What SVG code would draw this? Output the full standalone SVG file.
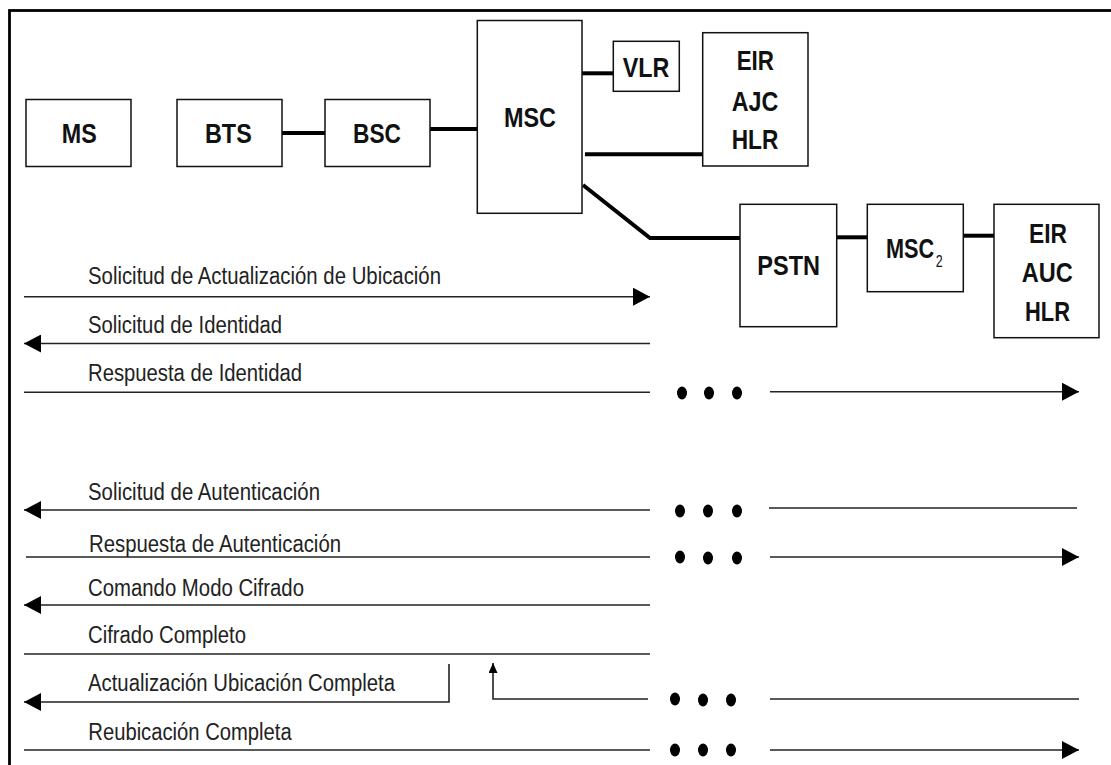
<svg xmlns="http://www.w3.org/2000/svg" width="1111" height="765" viewBox="0 0 1111 765">
  <style>
    .box { fill: #fff; stroke: #111; stroke-width: 1.5; }
    .lbl { font-family: "Liberation Sans", Arial, sans-serif; font-weight: bold; font-size: 28px; fill: #111; }
    .sub { font-weight: normal; font-size: 16px; }
    .link { stroke: #000; stroke-width: 4; fill: none; }
    .msg { stroke: #222; stroke-width: 1.6; fill: none; }
    .txt { font-family: "Liberation Sans", Arial, sans-serif; font-size: 23px; fill: #222; }
    .dot { fill: #000; }
  </style>
  <defs>
    <marker id="arr" viewBox="0 0 17 18" refX="17" refY="9" markerWidth="17" markerHeight="18" markerUnits="userSpaceOnUse" orient="auto">
      <path d="M0,0 L17,9 L0,18 z" fill="#000"/>
    </marker>
    <marker id="arrS" viewBox="0 0 10 9" refX="10" refY="4.5" markerWidth="10" markerHeight="9" markerUnits="userSpaceOnUse" orient="auto">
      <path d="M0,0 L10,4.5 L0,9 z" fill="#000"/>
    </marker>
  </defs>

  <rect width="1111" height="765" fill="#fff"/>
  <!-- outer frame (runs past the right and bottom edges) -->
  <rect x="9.5" y="10.5" width="1130" height="800" fill="none" stroke="#000" stroke-width="2.8"/>

  <!-- network links -->
  <g id="links">
    <line class="link" x1="282" y1="133" x2="325" y2="133"/>
    <line class="link" x1="430" y1="129" x2="477" y2="129"/>
    <line class="link" x1="582" y1="73.3" x2="613" y2="73.3"/>
    <line class="link" x1="585" y1="154.3" x2="703" y2="154.3"/>
    <polyline class="link" points="583,185 650,238 740,238"/>
    <line class="link" x1="836.7" y1="237.3" x2="867.3" y2="237.3"/>
    <line class="link" x1="963.3" y1="235.7" x2="994" y2="235.7"/>
  </g>

  <g id="ms">
    <rect class="box" x="26" y="99.5" width="105" height="67"/>
    <text class="lbl" x="61.7" y="142.5" textLength="35" lengthAdjust="spacingAndGlyphs">MS</text>
  </g>
  <g id="bts">
    <rect class="box" x="177" y="99.5" width="105" height="67"/>
    <text class="lbl" x="205" y="142.5" textLength="46.7" lengthAdjust="spacingAndGlyphs">BTS</text>
  </g>
  <g id="bsc">
    <rect class="box" x="325" y="99.5" width="105" height="67"/>
    <text class="lbl" x="353" y="142.5" textLength="48" lengthAdjust="spacingAndGlyphs">BSC</text>
  </g>
  <g id="msc">
    <rect class="box" x="477.3" y="20.5" width="104.7" height="192.8"/>
    <text class="lbl" x="504" y="127.3" textLength="52" lengthAdjust="spacingAndGlyphs">MSC</text>
  </g>
  <g id="vlr">
    <rect class="box" x="613.3" y="41.3" width="66" height="50"/>
    <text class="lbl" x="622.7" y="77.3" textLength="46.6" lengthAdjust="spacingAndGlyphs">VLR</text>
  </g>
  <g id="eir-ajc-hlr">
    <rect class="box" x="702.7" y="32.7" width="105.3" height="133.3"/>
    <text class="lbl" x="736.7" y="70" textLength="37.3" lengthAdjust="spacingAndGlyphs">EIR</text>
    <text class="lbl" x="731.7" y="110.7" textLength="46.6" lengthAdjust="spacingAndGlyphs">AJC</text>
    <text class="lbl" x="731.7" y="149" textLength="46.6" lengthAdjust="spacingAndGlyphs">HLR</text>
  </g>
  <g id="pstn">
    <rect class="box" x="740" y="204.3" width="96.7" height="122.4"/>
    <text class="lbl" x="757.3" y="275" textLength="62.7" lengthAdjust="spacingAndGlyphs">PSTN</text>
  </g>
  <g id="msc2">
    <rect class="box" x="867.3" y="204.3" width="96" height="87.4"/>
    <!-- condensed label with subscript index -->
    <text class="lbl" transform="translate(886,257.7) scale(0.775,1)">MSC<tspan class="sub" dx="2" dy="9">2</tspan></text>
  </g>
  <g id="eir-auc-hlr">
    <rect class="box" x="994" y="204.3" width="105" height="133.4"/>
    <text class="lbl" x="1029" y="242.7" textLength="38" lengthAdjust="spacingAndGlyphs">EIR</text>
    <text class="lbl" x="1021.7" y="281.7" textLength="51" lengthAdjust="spacingAndGlyphs">AUC</text>
    <text class="lbl" x="1025" y="320.7" textLength="45" lengthAdjust="spacingAndGlyphs">HLR</text>
  </g>

  <!-- signalling messages -->
  <g id="messages">
    <text class="txt" x="88" y="283.5" textLength="353" lengthAdjust="spacingAndGlyphs">Solicitud de Actualización de Ubicación</text>
    <line class="msg" x1="24" y1="296.7" x2="650" y2="296.7" marker-end="url(#arr)"/>

    <text class="txt" x="88" y="333" textLength="194" lengthAdjust="spacingAndGlyphs">Solicitud de Identidad</text>
    <line class="msg" x1="650" y1="343.5" x2="24" y2="343.5" marker-end="url(#arr)"/>

    <text class="txt" x="88" y="381" textLength="214" lengthAdjust="spacingAndGlyphs">Respuesta de Identidad</text>
    <line class="msg" x1="24" y1="392.3" x2="650" y2="392.3"/>
    <line class="msg" x1="770" y1="391.7" x2="1079" y2="391.7" marker-end="url(#arr)"/>

    <text class="txt" x="88" y="500" textLength="232" lengthAdjust="spacingAndGlyphs">Solicitud de Autenticación</text>
    <line class="msg" x1="650" y1="510" x2="24" y2="510" marker-end="url(#arr)"/>
    <line class="msg" x1="769" y1="508" x2="1077" y2="508"/>

    <text class="txt" x="89" y="552" textLength="252" lengthAdjust="spacingAndGlyphs">Respuesta de Autenticación</text>
    <line class="msg" x1="26" y1="557" x2="650" y2="557"/>
    <line class="msg" x1="770" y1="557" x2="1079" y2="557" marker-end="url(#arr)"/>

    <text class="txt" x="88" y="596" textLength="216" lengthAdjust="spacingAndGlyphs">Comando Modo Cifrado</text>
    <line class="msg" x1="650" y1="605" x2="24" y2="605" marker-end="url(#arr)"/>

    <text class="txt" x="88" y="642.5" textLength="158" lengthAdjust="spacingAndGlyphs">Cifrado Completo</text>
    <line class="msg" x1="24" y1="654" x2="650" y2="654"/>

    <text class="txt" x="88" y="690.5" textLength="307" lengthAdjust="spacingAndGlyphs">Actualización Ubicación Completa</text>
    <polyline class="msg" points="449,664 449,702 24,702" marker-end="url(#arr)"/>
    <polyline class="msg" points="648,699 493,699 493,663" marker-end="url(#arrS)"/>
    <line class="msg" x1="770" y1="699" x2="1079" y2="699"/>

    <text class="txt" x="88.3" y="740" textLength="203.4" lengthAdjust="spacingAndGlyphs">Reubicación Completa</text>
    <line class="msg" x1="24" y1="750" x2="650" y2="750"/>
    <line class="msg" x1="770" y1="750" x2="1079" y2="750" marker-end="url(#arr)"/>
  </g>

  <!-- continuation dots -->
  <g id="dots">
    <ellipse class="dot" cx="682" cy="393" rx="5" ry="6.5"/>
    <ellipse class="dot" cx="709" cy="393" rx="5" ry="6.5"/>
    <ellipse class="dot" cx="737" cy="393" rx="5" ry="6.5"/>
    <ellipse class="dot" cx="680" cy="511" rx="5" ry="6.5"/>
    <ellipse class="dot" cx="708" cy="511" rx="5" ry="6.5"/>
    <ellipse class="dot" cx="737" cy="511" rx="5" ry="6.5"/>
    <ellipse class="dot" cx="680" cy="557" rx="5" ry="6.5"/>
    <ellipse class="dot" cx="708" cy="558" rx="5" ry="6.5"/>
    <ellipse class="dot" cx="737" cy="558" rx="5" ry="6.5"/>
    <ellipse class="dot" cx="675" cy="699" rx="5" ry="6.5"/>
    <ellipse class="dot" cx="703" cy="700" rx="5" ry="6.5"/>
    <ellipse class="dot" cx="731" cy="700" rx="5" ry="6.5"/>
    <ellipse class="dot" cx="675" cy="750" rx="5" ry="6.5"/>
    <ellipse class="dot" cx="703" cy="750" rx="5" ry="6.5"/>
    <ellipse class="dot" cx="731" cy="750" rx="5" ry="6.5"/>
  </g>
</svg>
